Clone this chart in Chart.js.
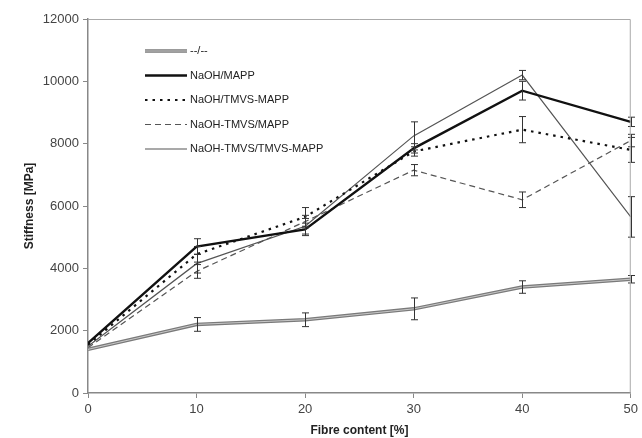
<!DOCTYPE html>
<html>
<head>
<meta charset="utf-8">
<script src="https://cdn.jsdelivr.net/npm/chart.js@4"></script>
<style>
  html, body { margin: 0; padding: 0; background: #fff; }
  #wrap { width: 642px; height: 438px; position: relative; }
</style>
</head>
<body>
<div id="wrap"><canvas id="chart" width="642" height="438"></canvas></div>
<script>
// Datos
const fibreContent = [0, 10, 20, 30, 40, 50];
const seriesNames = ['--/--', 'NaOH/MAPP', 'NaOH/TMVS-MAPP', 'NaOH-TMVS/MAPP', 'NaOH-TMVS/TMVS-MAPP'];

const untreated = [1400, 2200, 2350, 2700, 3400, 3650];
const naohMapp = [1600, 4700, 5250, 7850, 9700, 8700];
const naohTmvsMapp = [1550, 4450, 5650, 7750, 8450, 7800];
const naohTmvsSlashMapp = [1450, 3900, 5500, 7150, 6200, 8100];
const naohTmvsTmvsMapp = [1500, 4150, 5350, 8250, 10200, 5650];

// Barras de error (±)
const untreatedErr = [0, 220, 220, 350, 200, 120];
const naohMappErr = [0, 250, 200, 150, 300, 150];
const naohTmvsMappErr = [0, 250, 300, 150, 420, 400];
const naohTmvsSlashMappErr = [0, 220, 200, 180, 250, 200];
const naohTmvsTmvsMappErr = [0, 300, 250, 450, 150, 650];

const yTicks = [0, 2000, 4000, 6000, 8000, 10000, 12000];

const FONT = "'Liberation Sans', Arial, sans-serif";

function toPoints(values) {
  return fibreContent.map((x, i) => ({ x: x, y: values[i] }));
}

const datasets = [
  { label: seriesNames[0], data: toPoints(untreated), errors: untreatedErr,
    borderColor: '#7a7a7a', borderWidth: 3.5, inner: '#c8c8c8' },
  { label: seriesNames[1], data: toPoints(naohMapp), errors: naohMappErr,
    borderColor: '#111', borderWidth: 2.4 },
  { label: seriesNames[2], data: toPoints(naohTmvsMapp), errors: naohTmvsMappErr,
    borderColor: '#111', borderWidth: 2.2, borderDash: [2.5, 5] },
  { label: seriesNames[3], data: toPoints(naohTmvsSlashMapp), errors: naohTmvsSlashMappErr,
    borderColor: '#555', borderWidth: 1.2, borderDash: [6, 4] },
  { label: seriesNames[4], data: toPoints(naohTmvsTmvsMapp), errors: naohTmvsTmvsMappErr,
    borderColor: '#555', borderWidth: 1.2 }
].map(d => Object.assign({ pointRadius: 0, tension: 0, fill: false }, d));

/**
 * Línea interior clara para la serie de doble línea
 */
const doubleLinePlugin = {
  id: 'doubleLine',
  afterDatasetDraw(chart, args) {
    const ds = chart.data.datasets[args.index];
    if (!ds.inner) return;
    const meta = args.meta;
    const ctx = chart.ctx;
    ctx.save();
    ctx.strokeStyle = ds.inner;
    ctx.lineWidth = 1;
    ctx.beginPath();
    meta.data.forEach((p, i) => {
      if (i === 0) ctx.moveTo(p.x, p.y); else ctx.lineTo(p.x, p.y);
    });
    ctx.stroke();
    ctx.restore();
  }
};

/**
 * Barras de error con remates
 */
const errorBarsPlugin = {
  id: 'errorBars',
  afterDatasetsDraw(chart) {
    const ctx = chart.ctx;
    const yScale = chart.scales.y;
    ctx.save();
    ctx.strokeStyle = '#333';
    ctx.lineWidth = 1;
    chart.data.datasets.forEach((ds, di) => {
      const meta = chart.getDatasetMeta(di);
      meta.data.forEach((p, i) => {
        const e = ds.errors[i];
        if (!e) return;
        const v = ds.data[i].y;
        const top = yScale.getPixelForValue(v + e);
        const bot = yScale.getPixelForValue(v - e);
        const x = Math.round(p.x) + 0.5;
        ctx.beginPath();
        ctx.moveTo(x, top); ctx.lineTo(x, bot);
        ctx.moveTo(x - 3.5, top); ctx.lineTo(x + 3.5, top);
        ctx.moveTo(x - 3.5, bot); ctx.lineTo(x + 3.5, bot);
        ctx.stroke();
      });
    });
    ctx.restore();
  }
};

/**
 * Marco superior/derecho y leyenda dentro del área
 */
const frameLegendPlugin = {
  id: 'frameLegend',
  afterDraw(chart) {
    const ctx = chart.ctx;
    const a = chart.chartArea;
    ctx.save();
    ctx.strokeStyle = '#aaa';
    ctx.lineWidth = 1;
    ctx.beginPath();
    ctx.moveTo(a.left, a.top + 0.5); ctx.lineTo(a.right - 0.5, a.top + 0.5);
    ctx.lineTo(a.right - 0.5, a.bottom);
    ctx.stroke();

    const x0 = 145, x1 = 187, yStart = 51, step = 24.5;
    ctx.font = '11px ' + FONT;
    ctx.textBaseline = 'middle';
    ctx.fillStyle = '#222';
    chart.data.datasets.forEach((ds, i) => {
      const y = yStart + i * step;
      ctx.strokeStyle = ds.borderColor;
      ctx.lineWidth = ds.borderWidth;
      ctx.setLineDash(ds.borderDash || []);
      ctx.beginPath();
      ctx.moveTo(x0, y); ctx.lineTo(x1, y);
      ctx.stroke();
      if (ds.inner) {
        ctx.strokeStyle = ds.inner;
        ctx.lineWidth = 1;
        ctx.beginPath();
        ctx.moveTo(x0, y); ctx.lineTo(x1, y);
        ctx.stroke();
      }
      ctx.setLineDash([]);
      ctx.fillText(ds.label, x1 + 3, y);
    });
    ctx.restore();
  }
};

const ctx = document.getElementById('chart').getContext('2d');
new Chart(ctx, {
  type: 'line',
  data: { datasets: datasets },
  plugins: [doubleLinePlugin, errorBarsPlugin, frameLegendPlugin],
  options: {
    responsive: false,
    animation: false,
    layout: { padding: { top: 19, right: 8, left: 22, bottom: 0 } },
    plugins: { legend: { display: false }, tooltip: { enabled: false } },
    scales: {
      x: {
        type: 'linear',
        min: 0,
        max: 50,
        afterFit(scale) { scale.height = 45; },
        ticks: { stepSize: 10, color: '#444', font: { family: FONT, size: 13 }, padding: 4,
                 callback: v => String(v) },
        grid: { drawOnChartArea: false, drawTicks: true, tickLength: 5, color: '#888' },
        border: { color: '#888', width: 1.5 },
        title: { display: true, text: 'Fibre content [%]', color: '#222',
                 font: { family: FONT, size: 12, weight: 'bold' }, padding: { top: 0, bottom: 0 } }
      },
      y: {
        min: 0,
        max: 12000,
        afterFit(scale) { scale.width = 66; },
        afterBuildTicks(scale) { scale.ticks = yTicks.map(v => ({ value: v })); },
        ticks: { color: '#444', font: { family: FONT, size: 13 }, padding: 4,
                 callback: v => String(v) },
        grid: { drawOnChartArea: false, drawTicks: true, tickLength: 5, color: '#888' },
        border: { color: '#888', width: 1.5 },
        title: { display: true, text: 'Stiffness [MPa]', color: '#222',
                 font: { family: FONT, size: 12, weight: 'bold' }, padding: { top: 0, bottom: 4 } }
      }
    }
  }
});
</script>
</body>
</html>
